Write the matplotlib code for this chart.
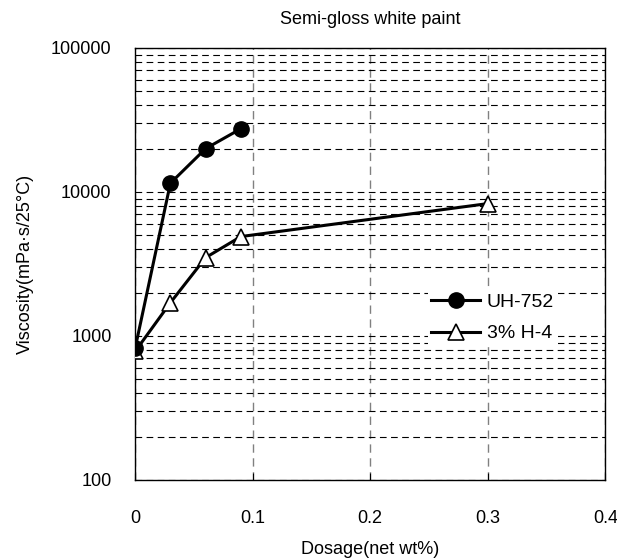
import matplotlib.pyplot as plt
from matplotlib.ticker import FixedLocator, NullFormatter

plt.rcParams['font.family'] = ['Liberation Sans', 'DejaVu Sans']

dosage_uh = [0, 0.03, 0.06, 0.09]
visc_uh = [820, 11500, 20000, 27500]
dosage_h4 = [0, 0.03, 0.06, 0.09, 0.3]
visc_h4 = [780, 1700, 3500, 4900, 8300]

fig = plt.figure(figsize=(6.17, 5.58), dpi=100)
ax = fig.add_axes([0.219, 0.14, 0.762, 0.774])

ax.set_yscale('log')
ax.set_xlim(0, 0.4)
ax.set_ylim(100, 100000)

ax.plot(dosage_uh, visc_uh, color='black', lw=2.2, marker='o', ms=11,
        mfc='black', mec='black', label='UH-752', zorder=4)
ax.plot(dosage_h4, visc_h4, color='black', lw=2.2, marker='^', ms=12,
        mfc='white', mec='black', mew=1.2, label='3% H-4', zorder=3)

ax.set_xticks([0, 0.1, 0.2, 0.3, 0.4])
ax.set_xticklabels(['0', '0.1', '0.2', '0.3', '0.4'])
ax.set_yticks([100, 1000, 10000, 100000])
ax.set_yticklabels(['100', '1000', '10000', '100000'])
ax.yaxis.set_minor_locator(FixedLocator([m * 10 ** e for e in (2, 3, 4) for m in range(2, 10)]))
ax.yaxis.set_minor_formatter(NullFormatter())

ax.grid(axis='x', which='major', color='#808080', ls=(0, (6, 4)), lw=1)
ax.grid(axis='y', which='both', color='black', ls=(0, (6, 4)), lw=0.8)
ax.tick_params(axis='x', direction='in', length=5, pad=22, labelsize=13)
ax.tick_params(axis='y', which='both', length=0, pad=17, labelsize=13)
for s in ax.spines.values():
    s.set_linewidth(1)
    s.set_color('black')

ax.set_title('Semi-gloss white paint', fontsize=13, pad=17)
ax.set_xlabel('Dosage(net wt%)', fontsize=13, labelpad=10)
ax.set_ylabel('Viscosity(mPa·s/25°C)', fontsize=13, labelpad=12)

leg = ax.legend(loc='center left', bbox_to_anchor=(0.622, 0.375), frameon=True,
                fontsize=14, handlelength=2.5, handletextpad=0.35, labelspacing=0.7,
                borderpad=0.2, borderaxespad=0, fancybox=False)
leg.get_frame().set_edgecolor('none')
leg.get_frame().set_facecolor('white')
leg.get_frame().set_alpha(1)

fig.savefig('out.png', dpi=100)
